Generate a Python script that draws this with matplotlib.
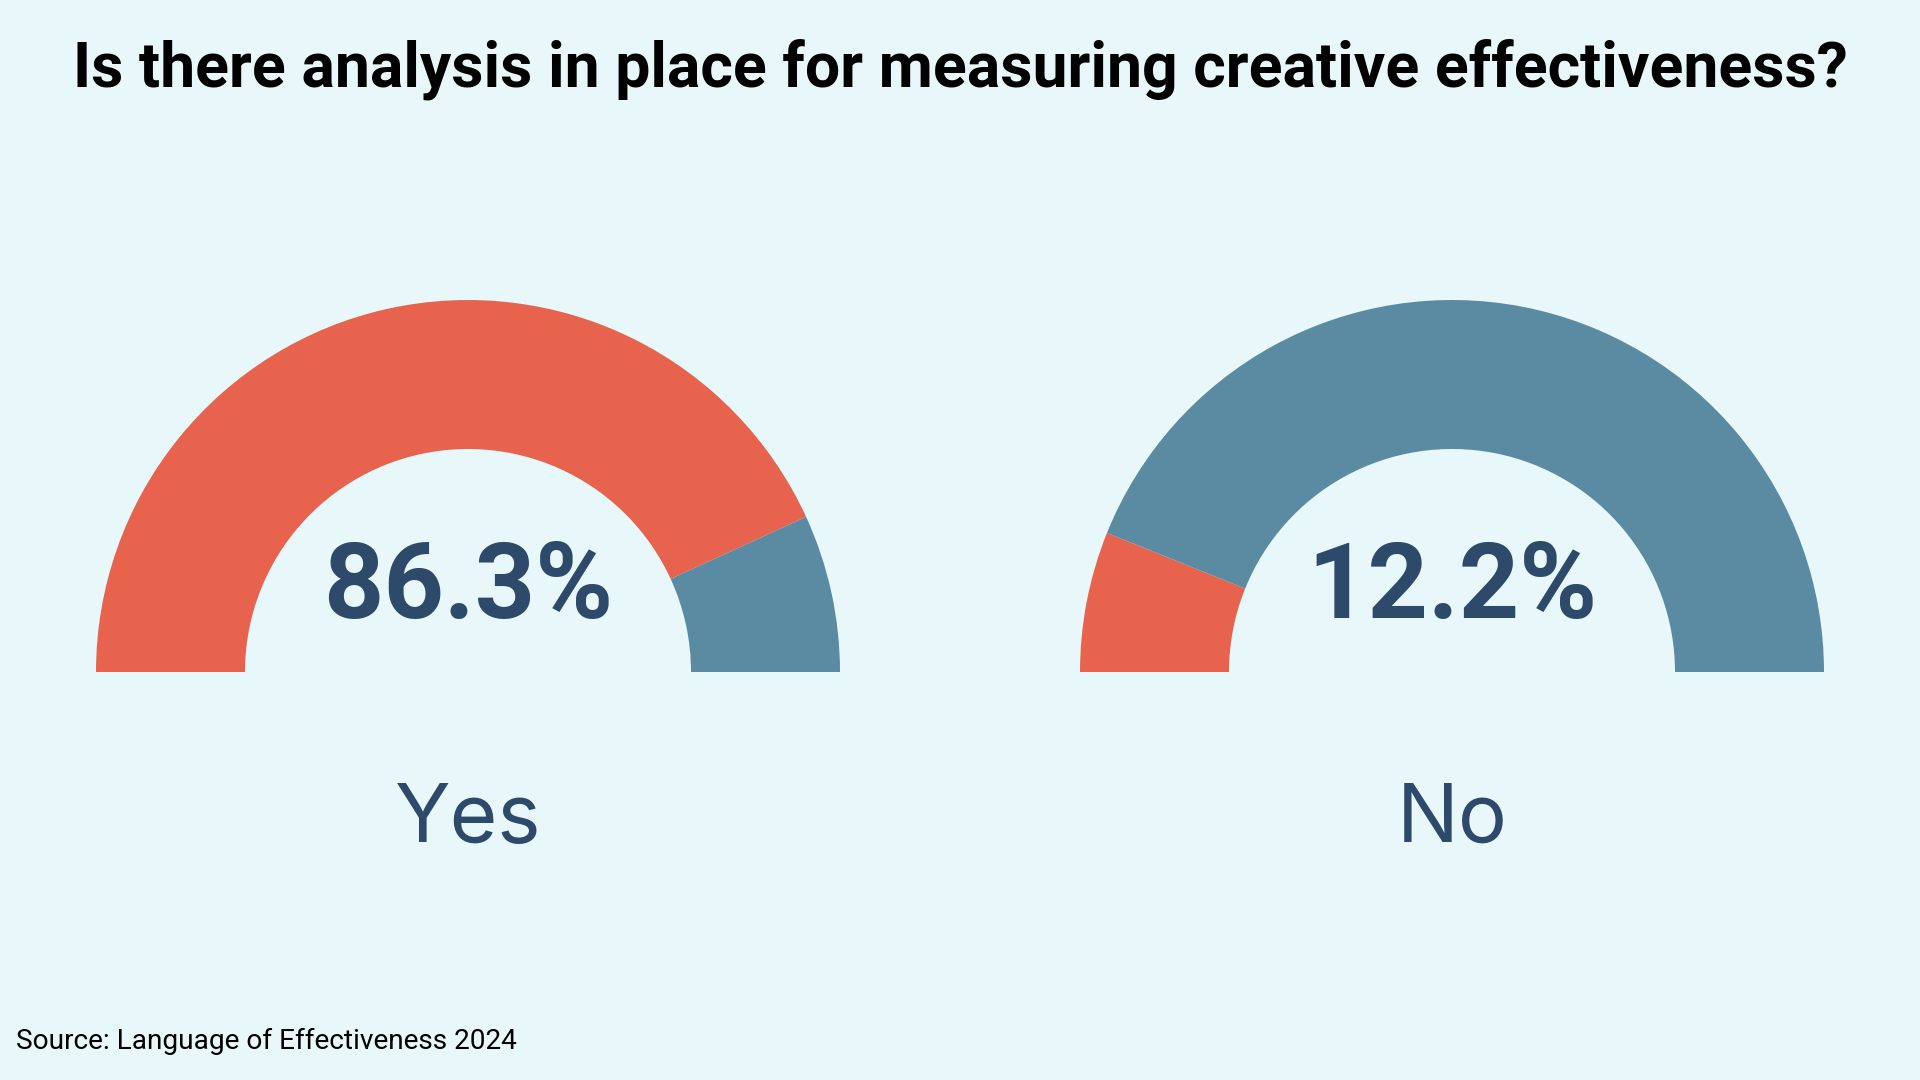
import matplotlib
matplotlib.use("Agg")
import matplotlib.pyplot as plt
from matplotlib.patches import Wedge

# data
labels = ["Yes", "No"]
shares = [86.3, 12.2]
colors = ["#E8634E", "#5B8BA3"]

W, H = 1920, 1080
bg = "#E8F8FA"
dark = "#2E4A6B"

fig = plt.figure(figsize=(W / 100, H / 100), dpi=100, facecolor=bg)
ax = fig.add_axes([0, 0, 1, 1])
ax.set_xlim(0, W)
ax.set_ylim(0, H)
ax.set_facecolor(bg)
ax.axis("off")

centers_x = [468, 1452]
cy = H - 672
r_out, r_in = 372, 223

for cx, lab, val in zip(centers_x, labels, shares):
    split = 180 - val / 100 * 180
    ax.add_patch(Wedge((cx, cy), r_out, split, 180, width=r_out - r_in, color=colors[0], lw=0))
    ax.add_patch(Wedge((cx, cy), r_out, 0, split, width=r_out - r_in, color=colors[1], lw=0))
    ax.text(cx, H - 618, f"{val}%", ha="center", va="baseline", fontsize=76,
            fontweight="bold", family="Roboto", color=dark)
    ax.text(cx, H - 842, lab, ha="center", va="baseline", fontsize=59,
            family="Inter", color=dark)

ax.text(W / 2, H - 86, "Is there analysis in place for measuring creative effectiveness?",
        ha="center", va="baseline", fontsize=45, fontweight="bold", family="Roboto", color="black")
ax.text(16, H - 1049, "Source: Language of Effectiveness 2024", ha="left", va="baseline",
        fontsize=20.2, family="Roboto", color="black")

fig.savefig("out.png", dpi=100, facecolor=bg)
